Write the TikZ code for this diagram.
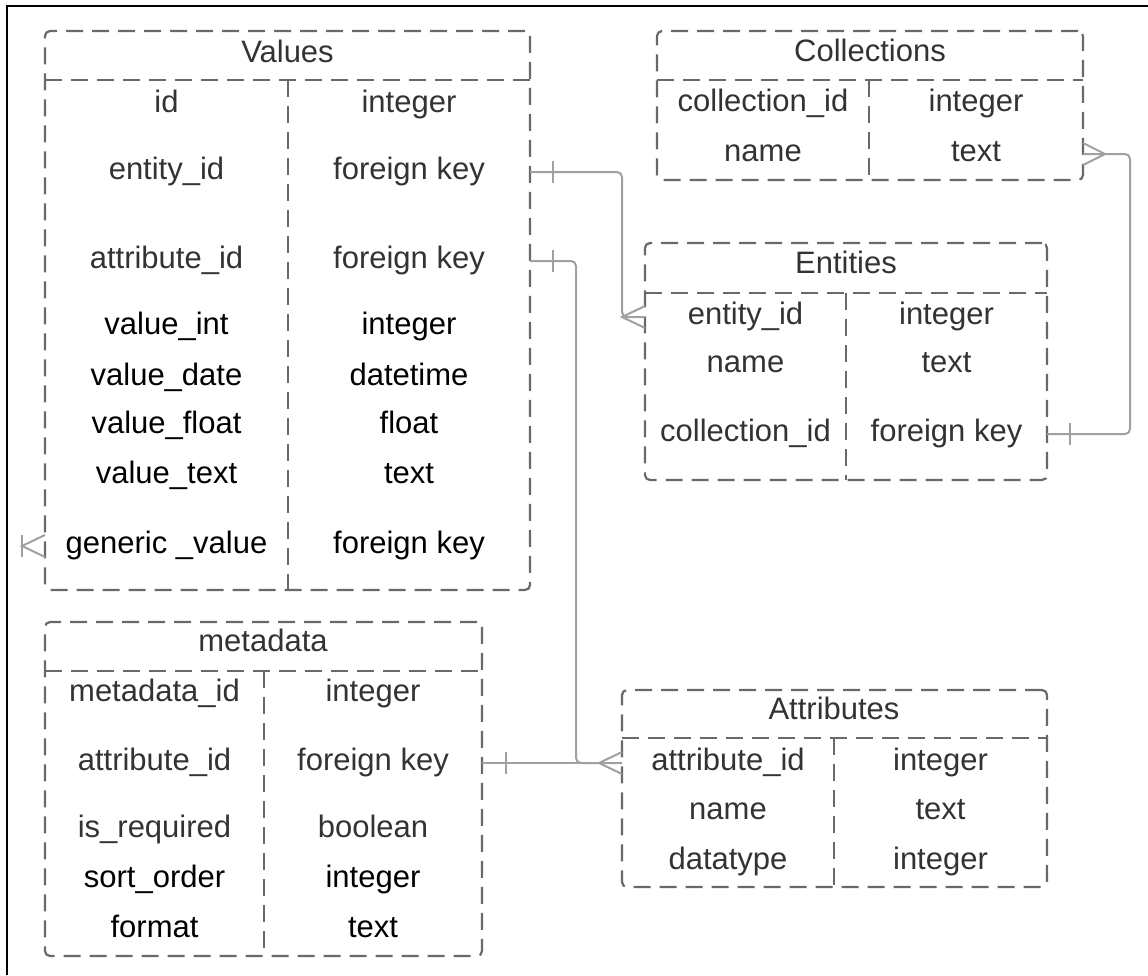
\documentclass[tikz,border=0pt]{standalone}
\usepackage{fontspec}
\setmainfont{Liberation Sans}
\usetikzlibrary{calc,positioning}
\definecolor{erdtext}{RGB}{51,51,51}
\definecolor{erdline}{RGB}{105,105,105}
\definecolor{erdlink}{RGB}{160,160,160}

\begin{document}
\begin{tikzpicture}[x=1pt, y=-1pt,
    tblbox/.style={draw=erdline, line width=2.2pt, dash pattern=on 17pt off 9pt, rounded corners=5pt, inner sep=0pt, outer sep=0pt},
    sep/.style={draw=erdline, line width=2.2pt, dash pattern=on 17pt off 9pt},
    field/.style={font=\fontsize{31}{36}\selectfont, text=erdtext, inner sep=0pt, text height=22pt, text depth=6.5pt},
    val/.style={field, text=black},
    link/.style={draw=erdlink, line width=2pt, rounded corners=5pt},
    tip/.style={draw=erdlink, line width=2pt}
]

\useasboundingbox (0,0) rectangle (1148,975);

% Frame
\draw[black, line width=2pt] (7,975) -- (7,6) -- (1148,6);

% Values table
\node[tblbox, minimum width=485pt, minimum height=559pt] (values) at (287.5,310.5) {};
\draw[sep] ($(values.north west)+(0,49)$) -- ($(values.north east)+(0,49)$);
\draw[sep] ($(values.north west)+(243,49)$) -- ($(values.south west)+(243,0)$);
\node[field] (valuesT) at (287.5,55) {Values};
\node[field] (vId) at (166.5,105) {id};
\node[field] (vIdK) at (409,105) {integer};
\node[field] (vEnt) at (166.5,172) {entity\_id};
\node[field] (vEntK) at (409,172) {foreign key};
\node[field] (vAtt) at (166.5,261) {attribute\_id};
\node[field] (vAttK) at (409,261) {foreign key};
\node[val] (vInt) at (166.5,327) {value\_int};
\node[val] (vIntK) at (409,327) {integer};
\node[val] (vDate) at (166.5,378) {value\_date};
\node[val] (vDateK) at (409,378) {datetime};
\node[val] (vFloat) at (166.5,426) {value\_float};
\node[val] (vFloatK) at (409,426) {float};
\node[val] (vText) at (166.5,476) {value\_text};
\node[val] (vTextK) at (409,476) {text};
\node[val] (vGen) at (166.5,546) {generic \_value};
\node[val] (vGenK) at (409,546) {foreign key};

% Collections table
\node[tblbox, minimum width=426pt, minimum height=149pt] (collections) at (870,105.5) {};
\draw[sep] ($(collections.north west)+(0,49)$) -- ($(collections.north east)+(0,49)$);
\draw[sep] ($(collections.north west)+(212,49)$) -- ($(collections.south west)+(212,0)$);
\node[field] (collectionsT) at (870,54) {Collections};
\node[field] (cId) at (763,104) {collection\_id};
\node[field] (cIdK) at (976,104) {integer};
\node[field] (cName) at (763,154) {name};
\node[field] (cNameK) at (976,154) {text};

% Entities table
\node[tblbox, minimum width=402pt, minimum height=237pt] (entities) at (846,361.5) {};
\draw[sep] ($(entities.north west)+(0,50)$) -- ($(entities.north east)+(0,50)$);
\draw[sep] ($(entities.north west)+(201,50)$) -- ($(entities.south west)+(201,0)$);
\node[field] (entitiesT) at (846,266) {Entities};
\node[field] (eEnt) at (745.5,317) {entity\_id};
\node[field] (eEntK) at (946.5,317) {integer};
\node[field] (eName) at (745.5,365) {name};
\node[field] (eNameK) at (946.5,365) {text};
\node[field] (eCol) at (745.5,434) {collection\_id};
\node[field] (eColK) at (946.5,434) {foreign key};

% metadata table
\node[tblbox, minimum width=437pt, minimum height=334pt] (metadata) at (263.5,789) {};
\draw[sep] ($(metadata.north west)+(0,49)$) -- ($(metadata.north east)+(0,49)$);
\draw[sep] ($(metadata.north west)+(219,49)$) -- ($(metadata.south west)+(219,0)$);
\node[field] (metadataT) at (263,644) {metadata};
\node[field] (mId) at (154.5,694) {metadata\_id};
\node[field] (mIdK) at (373,694) {integer};
\node[field] (mAtt) at (154.5,763) {attribute\_id};
\node[field] (mAttK) at (373,763) {foreign key};
\node[field] (mReq) at (154.5,830) {is\_required};
\node[field] (mReqK) at (373,830) {boolean};
\node[val] (mSort) at (154.5,880) {sort\_order};
\node[val] (mSortK) at (373,880) {integer};
\node[val] (mFmt) at (154.5,930) {format};
\node[val] (mFmtK) at (373,930) {text};

% Attributes table
\node[tblbox, minimum width=425pt, minimum height=197pt] (attributes) at (834.5,788.5) {};
\draw[sep] ($(attributes.north west)+(0,48)$) -- ($(attributes.north east)+(0,48)$);
\draw[sep] ($(attributes.north west)+(212,48)$) -- ($(attributes.south west)+(212,0)$);
\node[field] (attributesT) at (834,712) {Attributes};
\node[field] (aAtt) at (728,763) {attribute\_id};
\node[field] (aAttK) at (940.5,763) {integer};
\node[field] (aName) at (728,812) {name};
\node[field] (aNameK) at (940.5,812) {text};
\node[field] (aType) at (728,862) {datatype};
\node[field] (aTypeK) at (940.5,862) {integer};

% Values -> Entities
\draw[link] (values.east |- vEntK) -| ($(entities.west |- eEnt)+(-23,0)$) -- (entities.west |- eEnt);
\draw[tip] ($(values.east |- vEntK)+(23,-11)$) -- ++(0,22);
\draw[tip] ($(entities.west |- eEnt)+(0,-11)$) -- ++(-23,11) -- ++(23,11);

% Entities -> Collections
\draw[link] (entities.east |- eColK) -- ++(83,0) |- (collections.east |- cNameK);
\draw[tip] ($(entities.east |- eColK)+(23,-11)$) -- ++(0,22);
\draw[tip] ($(collections.east |- cNameK)+(0,-11)$) -- ++(22,11) -- ++(-22,11);

% Values -> Attributes
\draw[link] (values.east |- vAttK) -| ($(attributes.west |- aAtt)+(-46,0)$) -- (attributes.west |- aAtt);
\draw[tip] ($(values.east |- vAttK)+(23,-11)$) -- ++(0,22);

% metadata -> Attributes
\draw[link] (metadata.east |- mAttK) -- (attributes.west |- aAtt);
\draw[tip] ($(metadata.east |- mAttK)+(24,-11)$) -- ++(0,22);
\draw[tip] ($(attributes.west |- aAtt)+(0,-11)$) -- ++(-23,11) -- ++(23,11);

% generic value end
\draw[tip] ($(values.west |- vGen)+(0,-11)$) -- ++(-23,11) -- ++(23,11);
\draw[tip] ($(values.west |- vGen)+(-23,-11)$) -- ++(0,22);

\end{tikzpicture}
\end{document}
